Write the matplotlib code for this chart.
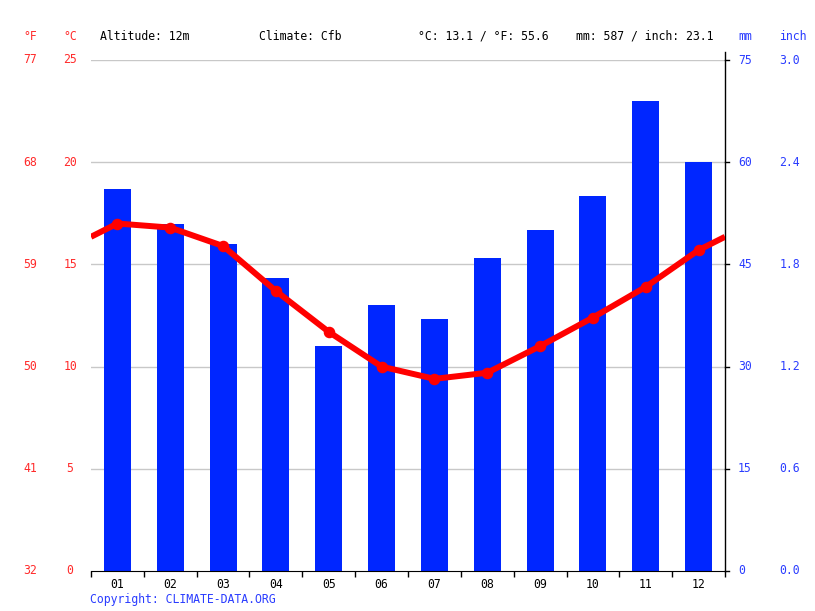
import matplotlib
matplotlib.use('Agg')
import matplotlib.pyplot as plt
import numpy as np

months = ['01', '02', '03', '04', '05', '06', '07', '08', '09', '10', '11', '12']
precip_mm = [56, 51, 48, 43, 33, 39, 37, 46, 50, 55, 69, 60]
temp_c = [17.0, 16.8, 15.9, 13.7, 11.7, 10.0, 9.4, 9.7, 11.0, 12.4, 13.9, 15.7]

c_ticks = [0, 5, 10, 15, 20, 25]
f_labels = ['32', '41', '50', '59', '68', '77']
mm_ticks = [0, 15, 30, 45, 60, 75]
inch_labels = ['0.0', '0.6', '1.2', '1.8', '2.4', '3.0']

header = [
    ('Altitude: 12m', 100),
    ('Climate: Cfb', 259),
    ('°C: 13.1 / °F: 55.6', 418),
    ('mm: 587 / inch: 23.1', 576),
]

RED = '#ff0000'
LBL_RED = '#ff2a2a'
BLUE = '#0026ff'
LBL_BLUE = '#2a3cff'
FONT = 'DejaVu Sans Mono'
FS = 8.3
W, H = 815, 611

plt.rcParams['font.family'] = FONT

fig = plt.figure(figsize=(W / 100, H / 100), dpi=100)
ax = fig.add_axes([91 / W, 40 / H, 634 / W, 511 / H])
ax2 = ax.twinx()

x = np.arange(12)

# precipitation bars (mm axis)
ax.set_ylim(0, 75)
ax.set_xlim(-0.5, 11.5)
ax.bar(x, precip_mm, width=0.51, color=BLUE, zorder=2)
for v in mm_ticks[1:]:
    ax.axhline(v, color='#c8c8c8', lw=1, zorder=1)

# temperature line (°C axis), wrapped to the plot edges
ax2.set_ylim(0, 25)
edge = (temp_c[0] + temp_c[-1]) / 2
xl = np.concatenate([[-0.5], x, [11.5]])
yl = np.concatenate([[edge], temp_c, [edge]])
ax2.plot(xl, yl, color=RED, lw=4.3, solid_capstyle='butt', zorder=3)
ax2.plot(x, temp_c, 'o', color=RED, ms=7.3, zorder=4)

for a in (ax, ax2):
    for s in ('top', 'left', 'right'):
        a.spines[s].set_visible(False)
    a.set_yticks([])
ax2.spines['bottom'].set_visible(False)
ax.spines['bottom'].set_color('black')

# right spine, a bit taller than the plot
ax.plot([1, 1], [0, 1 + 8 / 511], transform=ax.transAxes, color='black',
        lw=1, clip_on=False, zorder=5)
for v in mm_ticks:
    ax.plot([1, 1 + 4 / 634], [v, v], transform=ax.get_yaxis_transform(),
            color='black', lw=1, clip_on=False)

# x ticks: marks between months, labels at centres
ax.set_xticks(x)
ax.set_xticklabels(months, fontsize=FS, fontfamily=FONT)
ax.tick_params(axis='x', which='major', length=0, pad=5)
ax.set_xticks(np.arange(-0.5, 12, 1), minor=True)
ax.tick_params(axis='x', which='minor', length=4, width=1, color='black')

# axis labels
ytr = ax2.get_yaxis_transform()
for v, fl in zip(c_ticks, f_labels):
    ax2.annotate(str(v), (0, v), xytext=(-15, 0), textcoords='offset points',
                 xycoords=ytr, ha='center', va='center', color=LBL_RED, fontsize=FS)
    ax2.annotate(fl, (0, v), xytext=(-44, 0), textcoords='offset points',
                 xycoords=ytr, ha='center', va='center', color=LBL_RED, fontsize=FS)
mtr = ax.get_yaxis_transform()
for v, il in zip(mm_ticks, inch_labels):
    ax.annotate(str(v), (1, v), xytext=(9.4, 0), textcoords='offset points',
                xycoords=mtr, ha='left', va='center', color=LBL_BLUE, fontsize=FS)
    ax.annotate(il, (1, v), xytext=(39, 0), textcoords='offset points',
                xycoords=mtr, ha='left', va='center', color=LBL_BLUE, fontsize=FS)

# header row
hy = 1 - 36 / H
fig.text(30 / W, hy, '°F', ha='center', va='center', color=LBL_RED, fontsize=FS)
fig.text(70 / W, hy, '°C', ha='center', va='center', color=LBL_RED, fontsize=FS)
for txt, px in header:
    fig.text(px / W, hy, txt, ha='left', va='center', color='black', fontsize=FS)
fig.text(738 / W, hy, 'mm', ha='left', va='center', color=LBL_BLUE, fontsize=FS)
fig.text(779 / W, hy, 'inch', ha='left', va='center', color=LBL_BLUE, fontsize=FS)

fig.text(90 / W, 1 - 599 / H, 'Copyright: CLIMATE-DATA.ORG', ha='left', va='center',
         color=LBL_BLUE, fontsize=FS)

fig.savefig('out.png', dpi=100)
